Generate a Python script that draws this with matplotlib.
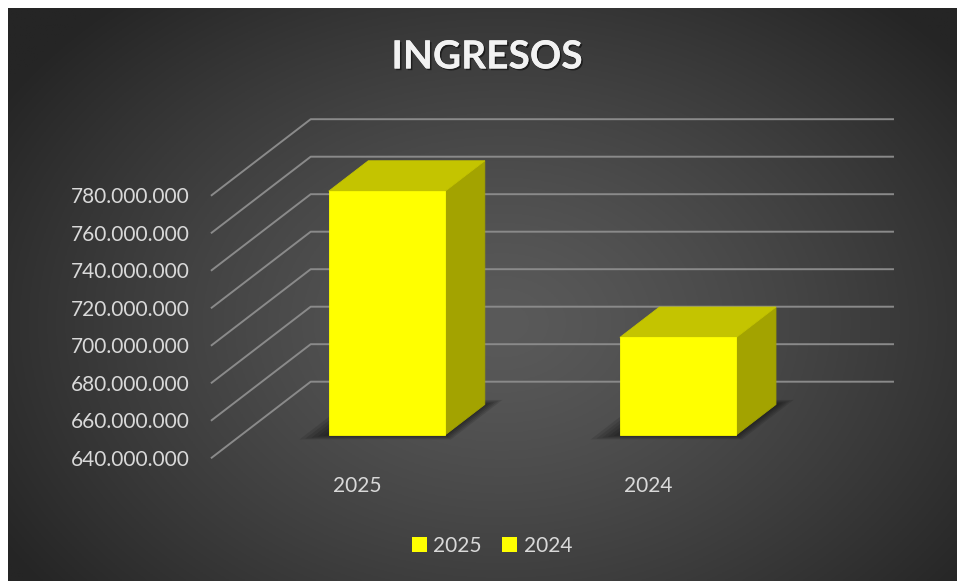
import numpy as np
import matplotlib
matplotlib.use("Agg")
import matplotlib.pyplot as plt
from matplotlib.patches import Polygon, Patch
from matplotlib.ticker import FuncFormatter
import matplotlib.patheffects as pe

plt.rcParams['font.family'] = ['Lato', 'DejaVu Sans']

# data
categories = ['2025', '2024']
values = [770_000_000, 692_000_000]
y_min, y_max, y_step = 640_000_000, 780_000_000, 20_000_000

# colours
front_col = '#ffff00'
top_col = '#c4c400'
side_col = '#a3a300'
grid_col = '#8a8a8a'
text_col = '#d9d9d9'

W, H = 957, 581
fig = plt.figure(figsize=(W / 100, H / 100), dpi=100, facecolor='white')

# background with a radial gradient
bg = fig.add_axes([8 / W, 0, (W - 8) / W, (H - 8) / H])
bg.set_axis_off()
gx, gy = np.meshgrid(np.linspace(0, 1, 400), np.linspace(0, 1, 250))
r = np.sqrt(((gx - 0.52) / 0.62) ** 2 + ((gy - 0.55) / 0.75) ** 2)
r = np.clip(r, 0, 1)
shade = (90 - 53 * r ** 1.3) / 255
bg.imshow(np.dstack([shade, shade, shade]), extent=[0, 1, 0, 1], aspect='auto',
          origin='upper', zorder=0)
bg.set_xlim(0, 1)
bg.set_ylim(0, 1)

# front plane of the plot
ax = fig.add_axes([211.7 / W, (H - 457.7) / H, (794 - 211.7) / W, 262.5 / H])
ax.set_facecolor('none')
ax.set_xlim(-0.5, len(categories) - 0.5)
ax.set_ylim(y_min, y_max)
for s in ax.spines.values():
    s.set_visible(False)

# depth offset (99 px right, 76 px up) expressed in data units
o = ax.transData.transform((0, y_min))
p = ax.transData.inverted().transform(o + np.array([99, 76]))
ddx, ddy = p[0], p[1] - y_min

ticks = np.arange(y_min, y_max + 1, y_step)
x_lo, x_hi = -0.5, len(categories) - 0.5
for v in ticks:
    ax.plot([x_lo, x_lo + ddx, x_hi + ddx], [v, v + ddy, v + ddy],
            color=grid_col, lw=1.4, clip_on=False, zorder=1)

ax.set_yticks(ticks)
ax.yaxis.set_major_formatter(FuncFormatter(lambda v, pos: f'{v:,.0f}'.replace(',', '.')))
ax.set_xticks(range(len(categories)), categories)
ax.tick_params(axis='y', length=0, pad=15.6, labelsize=15, labelcolor=text_col)
ax.tick_params(axis='x', length=0, pad=13.5, labelsize=15, labelcolor=text_col)

# 3d-ish columns
f0, f1 = 0.3, 0.7
bw = 0.4
for i, v in enumerate(values):
    x0, x1 = i - bw / 2, i + bw / 2
    # soft shadow on the floor
    for k in range(5):
        e = 0.008 * (k + 1)
        ed = 0.012 * (k + 1)
        shp = [(x0 - 2 * e + (f0 - ed) * ddx, y_min + (f0 - ed) * ddy),
               (x1 + e + (f0 - ed) * ddx, y_min + (f0 - ed) * ddy),
               (x1 + e + (f1 + ed) * ddx, y_min + (f1 + ed) * ddy),
               (x0 - 2 * e + (f1 + ed) * ddx, y_min + (f1 + ed) * ddy)]
        ax.add_patch(Polygon(shp, closed=True, facecolor='black', edgecolor='none',
                             alpha=0.11, clip_on=False, zorder=2))
    front = [(x0 + f0 * ddx, y_min + f0 * ddy), (x1 + f0 * ddx, y_min + f0 * ddy),
             (x1 + f0 * ddx, v + f0 * ddy), (x0 + f0 * ddx, v + f0 * ddy)]
    side = [(x1 + f0 * ddx, y_min + f0 * ddy), (x1 + f1 * ddx, y_min + f1 * ddy),
            (x1 + f1 * ddx, v + f1 * ddy), (x1 + f0 * ddx, v + f0 * ddy)]
    top = [(x0 + f0 * ddx, v + f0 * ddy), (x1 + f0 * ddx, v + f0 * ddy),
           (x1 + f1 * ddx, v + f1 * ddy), (x0 + f1 * ddx, v + f1 * ddy)]
    for pts, col in [(side, side_col), (top, top_col), (front, front_col)]:
        ax.add_patch(Polygon(pts, closed=True, facecolor=col, edgecolor=col,
                             lw=0.6, clip_on=False, zorder=3))

# title
fig.text(487 / W, 1 - 57 / H, 'INGRESOS', ha='center', va='center', fontsize=28,
         fontweight='bold', color='#f2f2f2',
         path_effects=[pe.withSimplePatchShadow(offset=(1.2, -1.2), shadow_rgbFace='black', alpha=0.5),
                       pe.Normal()])

# legend
handles = [Patch(facecolor=front_col, edgecolor='none') for _ in categories]
fig.legend(handles, categories, loc='center', bbox_to_anchor=(492 / W, 1 - 546 / H),
           ncol=2, frameon=False, fontsize=15, labelcolor=text_col,
           handlelength=0.72, handleheight=0.72, handletextpad=0.3, columnspacing=1.0)

fig.savefig('out.png', dpi=100, facecolor=fig.get_facecolor())
